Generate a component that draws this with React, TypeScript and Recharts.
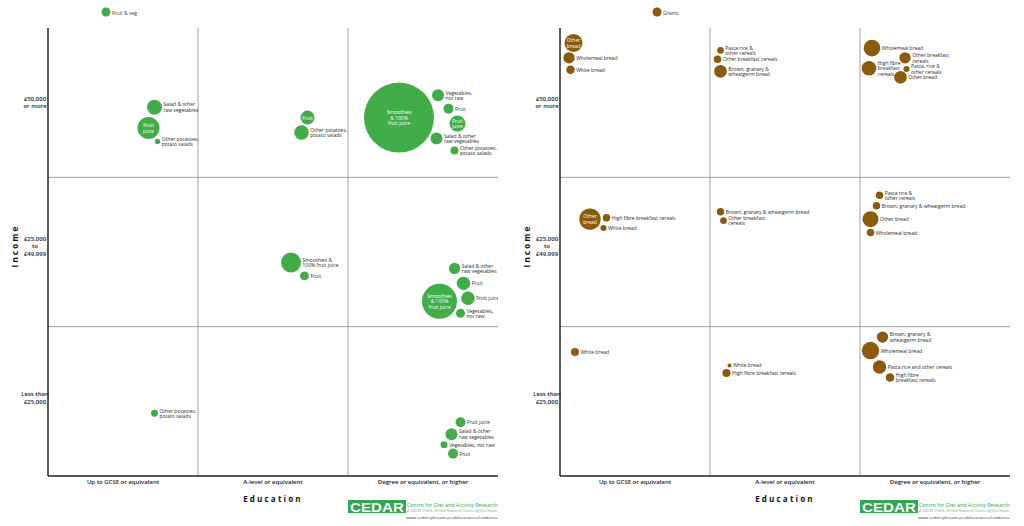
import React from "react";
import { ScatterChart, Scatter, XAxis, YAxis, ZAxis, ReferenceLine } from "recharts";

const GREEN = "#41AD49";
const BROWN = "#8B5A0B";
const CEDAR_GREEN = "#2FA84F";
const LABEL_FONT = "'Liberation Sans Narrow', 'Open Sans', sans-serif";
const AXIS_FONT = "'Open Sans', 'Liberation Sans', sans-serif";

const EDUCATION = ["Up to GCSE or equivalent", "A-level or equivalent", "Degree or equivalent, or higher"];
const INCOME = ["Less than\n£25,000", "£25,000\nto\n£49,999", "£50,000\nor more"];
const CELL_TICKS = [0.5, 1.5, 2.5];
// the income labels sit a little above the band centre in the original
const INCOME_TICK_NUDGE = [-3.5, -6, 0];

type Point = { name: string; edu: number; income: number; size: number };

// edu / income: place on the 0-3 grid (one unit per band), size ~ radius²
const FRUIT_VEG_HIGH: Point[] = [
  { name: "Salad & other\nraw vegetables", edu: 0.71, income: 2.47, size: 56 },
  { name: "Fruit\njuice", edu: 0.67, income: 2.33, size: 121 },
  { name: "Other potatoes,\npotato salads", edu: 0.73, income: 2.24, size: 7 },
  { name: "Fruit", edu: 1.73, income: 2.4, size: 49 },
  { name: "Other potatoes,\npotato salads", edu: 1.69, income: 2.3, size: 53 },
  { name: "Smoothies\n& 100%\nfruit juice", edu: 2.34, income: 2.4, size: 1225 },
  { name: "Vegetables,\nnot raw", edu: 2.6, income: 2.55, size: 36 },
  { name: "Fruit", edu: 2.67, income: 2.46, size: 25 },
  { name: "Fruit\njuice", edu: 2.73, income: 2.36, size: 64 },
  { name: "Salad & other\nraw vegetables", edu: 2.59, income: 2.26, size: 36 },
  { name: "Other potatoes,\npotato salads", edu: 2.71, income: 2.18, size: 16 },
];
const FRUIT_VEG_MID: Point[] = [
  { name: "Smoothies &\n100% fruit juice", edu: 1.62, income: 1.43, size: 100 },
  { name: "Fruit", edu: 1.71, income: 1.34, size: 20 },
  { name: "Salad & other\nraw vegetables", edu: 2.71, income: 1.39, size: 32 },
  { name: "Fruit", edu: 2.77, income: 1.29, size: 45 },
  { name: "Smoothies\n& 100%\nfruit juice", edu: 2.61, income: 1.17, size: 306 },
  { name: "Fruit juice", edu: 2.8, income: 1.19, size: 45 },
  { name: "Vegetables,\nnot raw", edu: 2.75, income: 1.09, size: 20 },
];
const FRUIT_VEG_LOW: Point[] = [
  { name: "Other potatoes,\npotato salads", edu: 0.71, income: 0.42, size: 12 },
  { name: "Fruit juice", edu: 2.75, income: 0.36, size: 25 },
  { name: "Salad & other\nraw vegetables", edu: 2.69, income: 0.28, size: 36 },
  { name: "Vegetables, not raw", edu: 2.64, income: 0.21, size: 12 },
  { name: "Fruit", edu: 2.7, income: 0.15, size: 25 },
];

const GRAINS_HIGH: Point[] = [
  { name: "Other\nbread", edu: 0.09, income: 2.9, size: 81 },
  { name: "Wholemeal bread", edu: 0.06, income: 2.8, size: 32 },
  { name: "White bread", edu: 0.07, income: 2.72, size: 18 },
  { name: "Pasta rice &\nother cereals", edu: 1.07, income: 2.85, size: 11 },
  { name: "Other breakfast cereals", edu: 1.05, income: 2.79, size: 14 },
  { name: "Brown, granary &\nwheatgerm bread", edu: 1.07, income: 2.71, size: 40 },
  { name: "Wholemeal bread", edu: 2.08, income: 2.865, size: 69 },
  { name: "Other breakfast\ncereals", edu: 2.3, income: 2.8, size: 32 },
  { name: "High fibre\nbreakfast\ncereals", edu: 2.06, income: 2.73, size: 53 },
  { name: "Pasta, rice &\nother cereals", edu: 2.31, income: 2.725, size: 9 },
  { name: "Other bread", edu: 2.27, income: 2.67, size: 40 },
];
const GRAINS_MID: Point[] = [
  { name: "Other\nbread", edu: 0.2, income: 1.72, size: 114 },
  { name: "High fibre breakfast cereals", edu: 0.31, income: 1.73, size: 14 },
  { name: "White bread", edu: 0.29, income: 1.66, size: 9 },
  { name: "Brown, granary & wheatgerm bread", edu: 1.07, income: 1.77, size: 14 },
  { name: "Other breakfast\ncereals", edu: 1.09, income: 1.71, size: 11 },
  { name: "Pasta rice &\nother cereals", edu: 2.13, income: 1.88, size: 14 },
  { name: "Brown, granary & wheatgerm bread", edu: 2.11, income: 1.81, size: 14 },
  { name: "Other bread", edu: 2.07, income: 1.72, size: 64 },
  { name: "Wholemeal bread", edu: 2.07, income: 1.63, size: 14 },
];
const GRAINS_LOW: Point[] = [
  { name: "White bread", edu: 0.1, income: 0.83, size: 16 },
  { name: "White bread", edu: 1.13, income: 0.74, size: 4 },
  { name: "High fibre breakfast cereals", edu: 1.11, income: 0.69, size: 16 },
  { name: "Brown,  granary &\nwheatgerm bread", edu: 2.15, income: 0.93, size: 32 },
  { name: "Wholemeal bread", edu: 2.07, income: 0.84, size: 76 },
  { name: "Pasta rice and other cereals", edu: 2.13, income: 0.73, size: 45 },
  { name: "High fibre\nbreakfast cereals", edu: 2.2, income: 0.66, size: 18 },
];

const keyOf = (p: Point) => `${p.name}@${Math.floor(p.edu)}${Math.floor(p.income)}`;

// bubbles whose label sits inside the circle
const FRUIT_VEG_INSIDE = new Set([
  "Fruit\njuice@02", "Fruit@12", "Smoothies\n& 100%\nfruit juice@22",
  "Fruit\njuice@22", "Smoothies\n& 100%\nfruit juice@21",
]);
const GRAINS_INSIDE = new Set(["Other\nbread@02", "Other\nbread@01"]);

function Bubble(props: any) {
  const { cx, cy, payload, color, inside } = props;
  if (cx == null || cy == null) return null;
  const r = props.width ? props.width / 2 : Math.sqrt((props.size || 0) / Math.PI);
  const lines = String(payload.name).split("\n");
  const isIn = inside.has(keyOf(payload));
  const lh = 5.4;
  const y0 = cy - ((lines.length - 1) * lh) / 2;
  const tx = isIn ? cx : cx + r + 1.5;
  return (
    <g>
      <circle cx={cx} cy={cy} r={r} fill={color} />
      <text
        textAnchor={isIn ? "middle" : "start"}
        fill={isIn ? "#fff" : "#2a2a2a"}
        fontSize={5}
        fontFamily={LABEL_FONT}
        dominantBaseline="central"
      >
        {lines.map((l, i) => (
          <tspan key={i} x={tx} y={y0 + i * lh}>{l}</tspan>
        ))}
      </text>
    </g>
  );
}

function IncomeTick(props: any) {
  const { x, y, payload } = props;
  const idx = Math.floor(payload.value);
  const lines = INCOME[idx].split("\n");
  const lh = 7.5;
  const y0 = y + INCOME_TICK_NUDGE[idx] - ((lines.length - 1) * lh) / 2;
  return (
    <text textAnchor="middle" fontSize={6} fontWeight={600} fill="#222" fontFamily={AXIS_FONT} dominantBaseline="central">
      {lines.map((l, i) => (
        <tspan key={i} x={x - 5} y={y0 + i * lh}>{l}</tspan>
      ))}
    </text>
  );
}

function IncomeLabel(props: any) {
  const vb = props.viewBox || {};
  const cx = (vb.x || 0) + 14;
  const cy = (vb.y || 0) + (vb.height || 0) / 2 - 6;
  return (
    <text x={cx} y={cy} transform={`rotate(-90, ${cx}, ${cy})`} textAnchor="middle" dominantBaseline="central"
      fontSize={8} fontWeight={700} letterSpacing={2.2} fill="#111" fontFamily={AXIS_FONT}>
      Income
    </text>
  );
}

function EducationLabel(props: any) {
  const vb = props.viewBox || {};
  const cx = (vb.x || 0) + (vb.width || 0) / 2;
  const cy = (vb.y || 0) + 22;
  return (
    <text x={cx} y={cy} textAnchor="middle" dominantBaseline="central"
      fontSize={8} fontWeight={700} letterSpacing={2.2} fill="#111" fontFamily={AXIS_FONT}>
      Education
    </text>
  );
}

function Overlay({ title, color, legendX }: { title: string; color: string; legendX: number }) {
  return (
    <svg width={512} height={526} style={{ position: "absolute", left: 0, top: 0, pointerEvents: "none" }}>
      <circle cx={legendX} cy={12} r={4.5} fill={color} />
      <text x={legendX + 6} y={12.5} fontSize={5} fontFamily={LABEL_FONT} fill="#333" dominantBaseline="central">{title}</text>
      {/* CEDAR logo */}
      <rect x={348} y={500} width={58} height={13} fill={CEDAR_GREEN} />
      <text x={350} y={507} fontSize={13} fontWeight={700} fill="#fff" fontFamily="'Liberation Sans', sans-serif"
        dominantBaseline="central" textLength={54} lengthAdjust="spacingAndGlyphs">CEDAR</text>
      <text x={407} y={505} fontSize={5.5} fill={CEDAR_GREEN} fontFamily={AXIS_FONT} dominantBaseline="central"
        textLength={91} lengthAdjust="spacingAndGlyphs">Centre for Diet and Activity Research</text>
      <text x={407} y={510.5} fontSize={3.2} fontStyle="italic" fill="#7aa886" fontFamily={AXIS_FONT} dominantBaseline="central"
        textLength={90} lengthAdjust="spacingAndGlyphs">A UKCRC Public Health Research Centre of Excellence</text>
      <text x={406} y={517} fontSize={4.3} fill="#333" fontFamily={AXIS_FONT} dominantBaseline="central"
        textLength={92} lengthAdjust="spacingAndGlyphs">www.cedar.iph.cam.ac.uk/resources/evidence</text>
    </svg>
  );
}

function Panel({ title, color, data, inside, legendX }: {
  title: string; color: string; data: Point[]; inside: Set<string>; legendX: number;
}) {
  return (
    <div style={{ position: "relative", width: 512, height: 526 }}>
      <ScatterChart width={512} height={526} margin={{ top: 28, right: 14, bottom: 0, left: 0 }}>
        <XAxis
          type="number"
          dataKey="edu"
          domain={[0, 3]}
          ticks={CELL_TICKS}
          interval={0}
          height={50}
          tickFormatter={(v: number) => EDUCATION[Math.floor(v)]}
          axisLine={{ stroke: "#222", strokeWidth: 1.5 }}
          tickLine={false}
          tickSize={0}
          tickMargin={4}
          tick={{ fontSize: 6, fontWeight: 600, fill: "#222", fontFamily: AXIS_FONT }}
          label={<EducationLabel />}
          allowDataOverflow
        />
        <YAxis
          type="number"
          dataKey="income"
          domain={[0, 3]}
          ticks={CELL_TICKS}
          interval={0}
          width={48}
          axisLine={{ stroke: "#222", strokeWidth: 1.5 }}
          tickLine={false}
          tick={<IncomeTick />}
          label={<IncomeLabel />}
          allowDataOverflow
        />
        <ZAxis type="number" dataKey="size" domain={[0, 1225]} range={[0, 1225 * Math.PI]} />
        <ReferenceLine x={1} stroke="#a0a0a0" strokeWidth={1} />
        <ReferenceLine x={2} stroke="#a0a0a0" strokeWidth={1} />
        <ReferenceLine y={1} stroke="#a0a0a0" strokeWidth={1} />
        <ReferenceLine y={2} stroke="#a0a0a0" strokeWidth={1} />
        <Scatter
          name={title}
          data={data}
          fill={color}
          isAnimationActive={false}
          shape={(p: any) => <Bubble {...p} color={color} inside={inside} />}
        />
      </ScatterChart>
      <Overlay title={title} color={color} legendX={legendX} />
    </div>
  );
}

export default function App() {
  return (
    <div style={{ position: "absolute", left: 0, top: 0, width: 1024, height: 526, background: "#fff", display: "flex" }}>
      <Panel title="Fruit & veg" color={GREEN} data={[...FRUIT_VEG_HIGH, ...FRUIT_VEG_MID, ...FRUIT_VEG_LOW]}
        inside={FRUIT_VEG_INSIDE} legendX={106} />
      <Panel title="Grains" color={BROWN} data={[...GRAINS_HIGH, ...GRAINS_MID, ...GRAINS_LOW]}
        inside={GRAINS_INSIDE} legendX={145} />
    </div>
  );
}
